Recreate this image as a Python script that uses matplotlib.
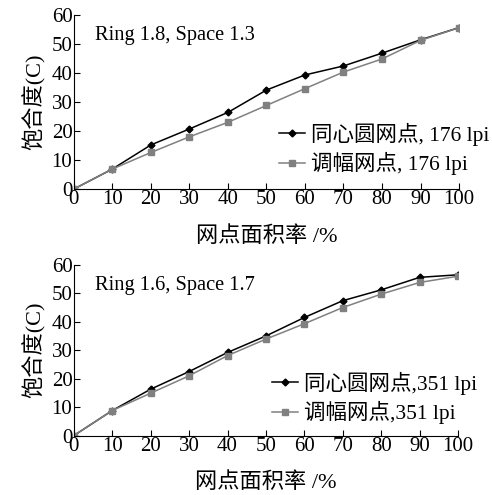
import matplotlib
matplotlib.use("Agg")
import matplotlib.pyplot as plt

plt.rcParams["font.family"] = ["Liberation Serif", "Noto Sans CJK SC"]
plt.rcParams["font.size"] = 15

x = [0, 10, 20, 30, 40, 50, 60, 70, 80, 90, 100]

# top panel: 176 lpi
ring_176 = [0, 6.9, 15.2, 20.7, 26.4, 34.1, 39.3, 42.4, 46.8, 51.4, 55.6]
am_176 = [0, 6.9, 12.6, 18.0, 23.0, 28.8, 34.6, 40.3, 44.8, 51.2, 55.6]

# bottom panel: 351 lpi
ring_351 = [0, 8.8, 16.3, 22.5, 29.2, 35.0, 41.5, 47.4, 51.2, 55.6, 56.5]
am_351 = [0, 8.8, 14.9, 21.0, 28.1, 33.9, 39.3, 45.0, 49.7, 53.8, 56.0]

panels = [
    ("Ring 1.8, Space 1.3", ring_176, am_176,
     "同心圆网点, 176 lpi", "调幅网点, 176 lpi"),
    ("Ring 1.6, Space 1.7", ring_351, am_351,
     "同心圆网点,351 lpi", "调幅网点,351 lpi"),
]

fig = plt.figure(figsize=(4.92, 4.95), dpi=100)
rects = [[0.150, 0.618, 0.783, 0.352], [0.150, 0.120, 0.781, 0.345]]
leg_anchor = [(1.13, 0.23), (1.10, 0.22)]

for rect, (note, s1, s2, lab1, lab2), anchor in zip(rects, panels, leg_anchor):
    ax = fig.add_axes(rect)
    ax.plot(x, s1, color="black", lw=1.1, marker="D", ms=3.5, label=lab1)
    ax.plot(x, s2, color="#808080", lw=1.1, marker="s", ms=4.5, label=lab2)
    ax.set_xlim(0, 100)
    ax.set_ylim(0, 60)
    ax.set_xticks(range(0, 101, 10))
    ax.set_yticks(range(0, 61, 10))
    ax.tick_params(direction="in", length=4, pad=1)
    for side in ("top", "right"):
        ax.spines[side].set_visible(False)
    ax.text(0.055, 0.855, note, transform=ax.transAxes, fontsize=14.7)
    ax.set_xlabel("网点面积率 /%", fontsize=16, labelpad=12)
    ax.set_ylabel("饱合度(C)", fontsize=16, labelpad=4)
    ax.legend(loc="center right", bbox_to_anchor=anchor, frameon=False,
              handlelength=1.2, handletextpad=0.3, labelspacing=0.3,
              fontsize=15.5)

fig.savefig("out.png", dpi=100)
